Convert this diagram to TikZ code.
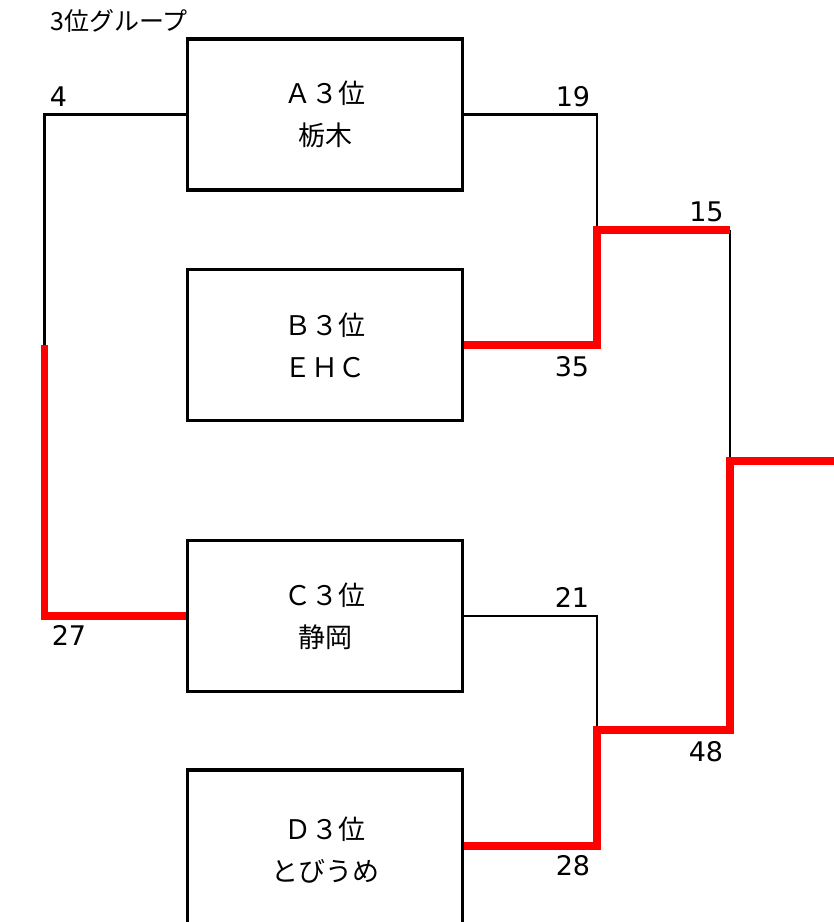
\documentclass[tikz,border=0pt]{standalone}
\usepackage{fontspec}
\setmainfont{DejaVu Sans}
\newfontfamily\jp{Noto Sans CJK JP}
\begin{document}
\begin{tikzpicture}[x=1pt,y=-1pt,
  team/.style={draw, line width=3.3pt, minimum width=275pt, minimum height=151pt,
    inner sep=0pt, align=center, font=\jp\fontsize{27}{42}\selectfont},
  thinline/.style={line width=2.8pt, black},
  winline/.style={line width=7.2pt, red},
  score/.style={font=\fontsize{27}{30}\selectfont, inner sep=0pt}]
\useasboundingbox (0,0) rectangle (834,922);
% title
\node[anchor=west, inner sep=0pt, font=\jp\fontsize{25}{30}\selectfont] (title) at (50,21) {3位グループ};
% teams
\node[team] (A) at (325,114.5) {Ａ３位\\栃木};
\node[team] (B) at (325,345) {Ｂ３位\\ＥＨＣ};
\node[team] (C) at (325,616) {Ｃ３位\\静岡};
\node[team, minimum height=160pt] (D) at (325,850) {Ｄ３位\\とびうめ};
% bracket points
\coordinate (lmid) at (44.5,345);
\coordinate (ab) at (597,230);
\coordinate (abr) at (730,230);
\coordinate (cd) at (597,730);
\coordinate (cdr) at (730,730);
\coordinate (fin) at (730,461);
\coordinate (out) at (840,461);
\coordinate (dout) at (463,846);
% losing lines
\draw[thinline] (A.west) -| (lmid);
\draw[thinline] (A.east) -| (ab);
\draw[thinline] (C.east) -| (cd);
\draw[thinline] (abr) -- (fin);
% winning lines
\draw[winline] (lmid) |- (C.west);
\draw[winline] (B.east) -| (ab) -- (abr);
\draw[winline] (D.east |- dout) -| (cd) -- (cdr) -- (fin) -- (out);
% scores
\node[score] (s4) at (58.5,97) {4};
\node[score] (s27) at (69,635) {27};
\node[score] (s19) at (573,97) {19};
\node[score] (s35) at (572,366.5) {35};
\node[score] (s15) at (706.5,212) {15};
\node[score] (s21) at (572,597) {21};
\node[score] (s48) at (706,752) {48};
\node[score] (s28) at (573,865.5) {28};
\end{tikzpicture}
\end{document}
